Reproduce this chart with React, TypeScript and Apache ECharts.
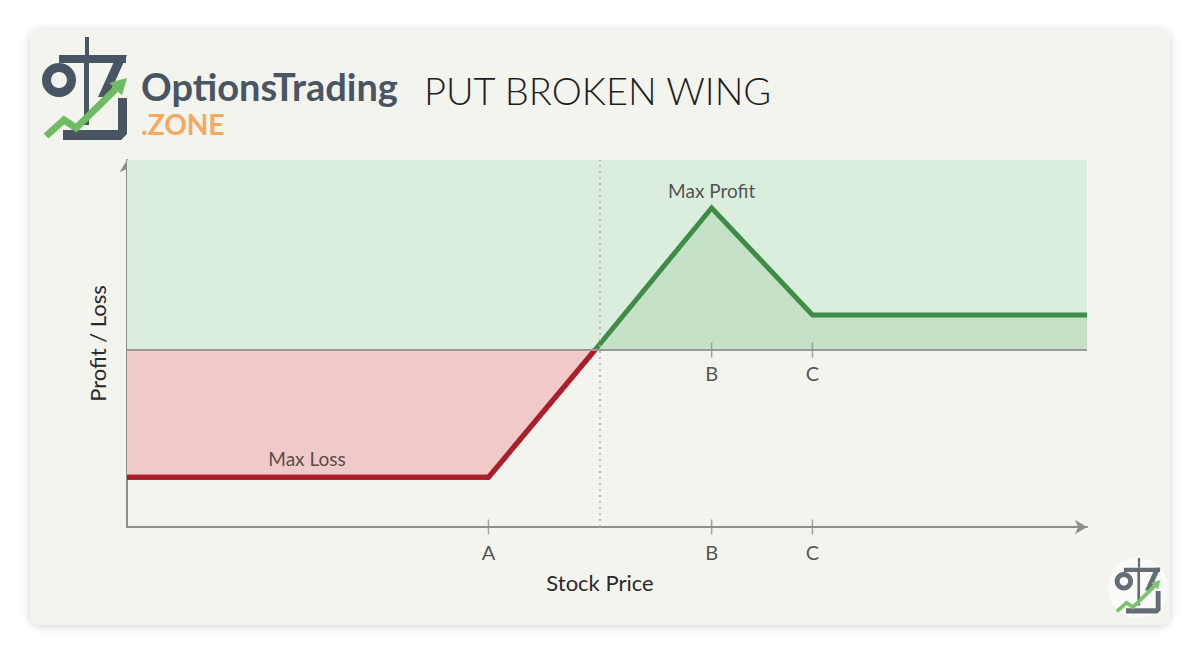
import React, { useEffect, useRef } from "react";
import * as echarts from "echarts";

// ---- data ----
const X_MIN = 0;
const X_MAX = 100;
const Y_MIN = -5.06;
const Y_MAX = 5.43;

const strikeNames = ["A", "B", "C"];
const strikePrices = [37.65, 60.9, 71.4];
const zeroTickNames = ["B", "C"];
const zeroTickPrices = [60.9, 71.4];

const breakevenLinePrice = 49.27;

const lossX = [0, 37.65, 48.75];
const lossY = [-3.64, -3.64, 0];
const profitX = [48.75, 60.9, 71.4, 100];
const profitY = [0, 4.06, 1.0, 1.0];

const maxLossLabelAt = [18.75, -3.64];
const maxProfitLabelAt = [60.9, 4.06];

const titleText = "PUT BROKEN WING";
const xAxisName = "Stock Price";
const yAxisName = "Profit / Loss";

const FONT = "Lato, 'Noto Sans', sans-serif";
const DARK = "#4a5563";
const AXIS = "#8e8e8e";

function logoChildren(dark: string, green: string) {
  return [
    { type: "rect", shape: { x: 85, y: 37, width: 4, height: 18 }, style: { fill: dark } },
    { type: "ring", shape: { cx: 59, cy: 80, r: 17, r0: 8 }, style: { fill: dark } },
    { type: "rect", shape: { x: 59, y: 55, width: 67, height: 8 }, style: { fill: dark } },
    { type: "polygon", shape: { points: [[117, 55], [127, 55], [108, 97], [98, 97]] }, style: { fill: dark } },
    { type: "rect", shape: { x: 84, y: 63, width: 5, height: 62 }, style: { fill: dark } },
    {
      type: "polygon",
      shape: { points: [[63, 130], [118, 130], [118, 98], [127, 98], [127, 134], [121, 140], [63, 140]] },
      style: { fill: dark },
    },
    {
      type: "polyline",
      shape: { points: [[46, 136], [64, 120], [76, 128], [115.6, 89.2]] },
      style: { stroke: green, lineWidth: 7, fill: null, lineJoin: "miter" },
    },
    {
      type: "polygon",
      shape: { points: [[127, 78], [121.9, 95.6], [109.3, 82.8]] },
      style: { fill: green },
    },
  ];
}

export default function App() {
  const ref = useRef<HTMLDivElement>(null);

  useEffect(() => {
    if (!ref.current) return;
    const chart = echarts.init(ref.current, null, { renderer: "svg" });

    const lossData = lossX.map((x, i) => [x, lossY[i]]);
    const profitData = profitX.map((x, i) => [x, profitY[i]]);

    const tickStyle = { color: AXIS };
    const axisTicks = strikeNames.map((n, i) => ({ name: n, value: [strikePrices[i], Y_MIN] }));
    const zeroTicks = zeroTickNames.map((n, i) => ({ name: n, value: [zeroTickPrices[i], 0] }));

    const option: any = {
      animation: false,
      backgroundColor: "#ffffff",
      grid: { left: 127, top: 160, right: 113, bottom: 128, containLabel: false },
      xAxis: {
        type: "value",
        min: X_MIN,
        max: X_MAX,
        name: xAxisName,
        nameLocation: "middle",
        nameGap: 44,
        nameTextStyle: { fontFamily: FONT, fontSize: 22, color: "#2a2a2a", padding: [0, 14, 0, 0] },
        axisLine: {
          show: true,
          onZero: false,
          symbol: ["none", "arrow"],
          symbolSize: [11, 12],
          lineStyle: { color: AXIS, width: 2 },
        },
        axisTick: { show: false },
        axisLabel: { show: false },
        splitLine: { show: false },
      },
      yAxis: {
        type: "value",
        min: Y_MIN,
        max: Y_MAX,
        name: yAxisName,
        nameLocation: "middle",
        nameGap: 19,
        nameTextStyle: { fontFamily: FONT, fontSize: 22, color: "#2a2a2a" },
        axisLine: {
          show: true,
          onZero: false,
          symbol: ["none", "arrow"],
          symbolSize: [11, 12],
          lineStyle: { color: AXIS, width: 2 },
        },
        axisTick: { show: false },
        axisLabel: { show: false },
        splitLine: { show: false },
      },
      graphic: [
        {
          type: "rect",
          z: -10,
          shape: { x: 30, y: 30, width: 1140, height: 595, r: 10 },
          style: { fill: "#f4f4ef", shadowBlur: 10, shadowColor: "rgba(0,0,0,0.18)", shadowOffsetY: 1 },
        },
        { type: "group", x: 0, y: 0, children: logoChildren(DARK, "#6fbb63") },
        {
          type: "circle",
          shape: { cx: 1138, cy: 588, r: 30 },
          style: { fill: "rgba(255,255,255,0.55)" },
        },
        {
          type: "group",
          x: 1092,
          y: 538,
          scaleX: 0.54,
          scaleY: 0.54,
          children: logoChildren("#646c75", "#7cc470"),
        },
        {
          type: "text",
          x: 141,
          y: 86,
          style: {
            text: "OptionsTrading",
            fontFamily: FONT,
            fontWeight: 700,
            fontSize: 38,
            lineHeight: 36,
            fill: DARK,
            verticalAlign: "middle",
            align: "left",
          },
        },
        {
          type: "text",
          x: 141,
          y: 124,
          style: {
            text: ".ZONE",
            fontFamily: FONT,
            fontWeight: 700,
            fontSize: 28,
            lineHeight: 24,
            fill: "#f5a85e",
            verticalAlign: "middle",
            align: "left",
          },
        },
        {
          type: "text",
          x: 424,
          y: 90,
          style: {
            text: titleText,
            fontFamily: FONT,
            fontWeight: 300,
            fontSize: 38,
            fill: "#1e1e1e",
            verticalAlign: "middle",
            align: "left",
          },
        },
      ],
      series: [
        {
          name: "bg",
          type: "line",
          data: [],
          z: 1,
          silent: true,
          markArea: {
            silent: true,
            itemStyle: { color: "#dbeedd" },
            data: [[{ xAxis: X_MIN, yAxis: 0 }, { xAxis: X_MAX, yAxis: Y_MAX }]],
          },
          markLine: {
            silent: true,
            symbol: "none",
            label: { show: false },
            data: [{ xAxis: breakevenLinePrice }],
            lineStyle: { color: "#a8a8a8", width: 1.5, type: [2, 4] },
          },
        },
        {
          name: "loss",
          type: "line",
          data: lossData,
          z: 2,
          symbol: "none",
          lineStyle: { color: "#ab1f2d", width: 5, join: "miter" },
          areaStyle: { color: "#f2c9c9", opacity: 1, origin: 0 },
        },
        {
          name: "profitArea",
          type: "line",
          data: profitData,
          z: 2,
          symbol: "none",
          lineStyle: { width: 0 },
          areaStyle: { color: "#c5e2c8", opacity: 1, origin: 0 },
        },
        {
          name: "zero",
          type: "line",
          data: [],
          z: 3,
          markLine: {
            silent: true,
            symbol: "none",
            label: { show: false },
            data: [{ yAxis: 0 }],
            lineStyle: { color: "#999999", width: 2, type: "solid" },
          },
        },
        {
          name: "profit",
          type: "line",
          data: profitData,
          z: 4,
          symbol: "none",
          lineStyle: { color: "#3f8b47", width: 5, join: "miter" },
        },
        {
          name: "lossLine",
          type: "line",
          data: lossData,
          z: 4,
          symbol: "none",
          lineStyle: { color: "#ab1f2d", width: 5, join: "miter" },
        },
        {
          name: "axisTicks",
          type: "scatter",
          z: 5,
          clip: false,
          symbol: "rect",
          symbolSize: [1.5, 15],
          itemStyle: tickStyle,
          label: {
            show: true,
            position: "bottom",
            distance: 7,
            formatter: "{b}",
            fontFamily: FONT,
            fontSize: 20,
            color: "#2a2a2a",
          },
          data: axisTicks,
        },
        {
          name: "zeroTicks",
          type: "scatter",
          z: 5,
          clip: false,
          symbol: "rect",
          symbolSize: [1.5, 15],
          itemStyle: tickStyle,
          label: {
            show: true,
            position: "bottom",
            distance: 6,
            formatter: "{b}",
            fontFamily: FONT,
            fontSize: 20,
            color: "#2a2a2a",
          },
          data: zeroTicks,
        },
        {
          name: "annotations",
          type: "scatter",
          z: 6,
          clip: false,
          symbolSize: 0,
          label: {
            show: true,
            position: "top",
            formatter: "{b}",
            fontFamily: FONT,
            fontSize: 19,
            color: "#2a2a2a",
          },
          data: [
            { name: "Max Profit", value: maxProfitLabelAt, label: { distance: 8 } },
            { name: "Max Loss", value: maxLossLabelAt, label: { distance: 9 } },
          ],
        },
      ],
    };

    chart.setOption(option);
    return () => chart.dispose();
  }, []);

  return (
    <div
      ref={ref}
      style={{ position: "fixed", left: 0, top: 0, width: 1200, height: 655 }}
    />
  );
}
